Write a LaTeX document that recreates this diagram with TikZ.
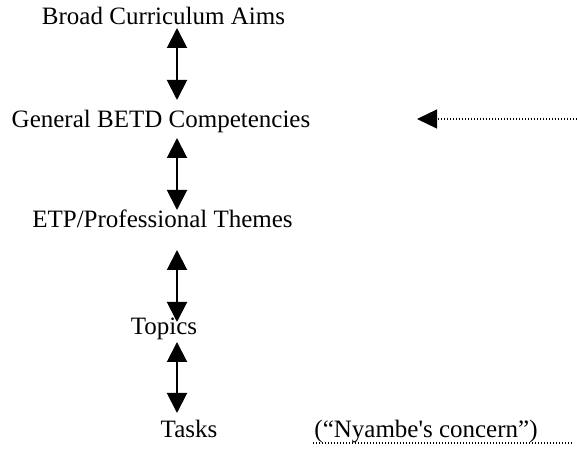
\documentclass[tikz,border=0pt]{standalone}
\usepackage{fontspec}
\newfontfamily\diagfont{Liberation Serif}
\usetikzlibrary{arrows.meta}
\begin{document}
\begin{tikzpicture}[x=1pt,y=1pt,
  lbl/.style={anchor=base,inner sep=0pt,font=\diagfont\fontsize{25}{30}\selectfont},
  link/.style={{Triangle[width=20pt,length=20pt]}-{Triangle[width=20pt,length=20pt]},line width=2pt},
  feed/.style={-{Triangle[width=19pt,length=20pt]},line width=1.2pt,dash pattern=on 1.4pt off 1.6pt},
  guide/.style={line width=1.2pt,dash pattern=on 1.4pt off 1.6pt}]
\useasboundingbox (0,0) rectangle (577,454);
\node[lbl] (aims) at (163.5,429) {Broad Curriculum Aims};
\node[lbl] (comp) at (161,326) {General BETD Competencies};
\node[lbl] (themes) at (162.5,226) {ETP/Professional Themes};
\node[lbl] (topics) at (164,119) {Topics};
\node[lbl] (tasks) at (189,16) {Tasks};
\node[lbl] (concern) at (426,16) {(“Nyambe's concern”)};
\coordinate (a1) at (177,426);
\coordinate (a2) at (177,354);
\coordinate (b1) at (177,316);
\coordinate (b2) at (177,244);
\coordinate (c1) at (177,204);
\coordinate (c2) at (177,132);
\coordinate (d1) at (177,112);
\coordinate (d2) at (177,41);
\coordinate (fs) at (577,335);
\coordinate (fe) at (417,335);
\coordinate (gs) at (313,11);
\coordinate (ge) at (572,11);
\draw[link] (a1) -- (a2);
\draw[link] (b1) -- (b2);
\draw[link] (c1) -- (c2);
\draw[link] (d1) -- (d2);
\draw[feed] (fs) -- (fe);
\draw[guide] (gs) -- (ge);
\end{tikzpicture}
\end{document}
